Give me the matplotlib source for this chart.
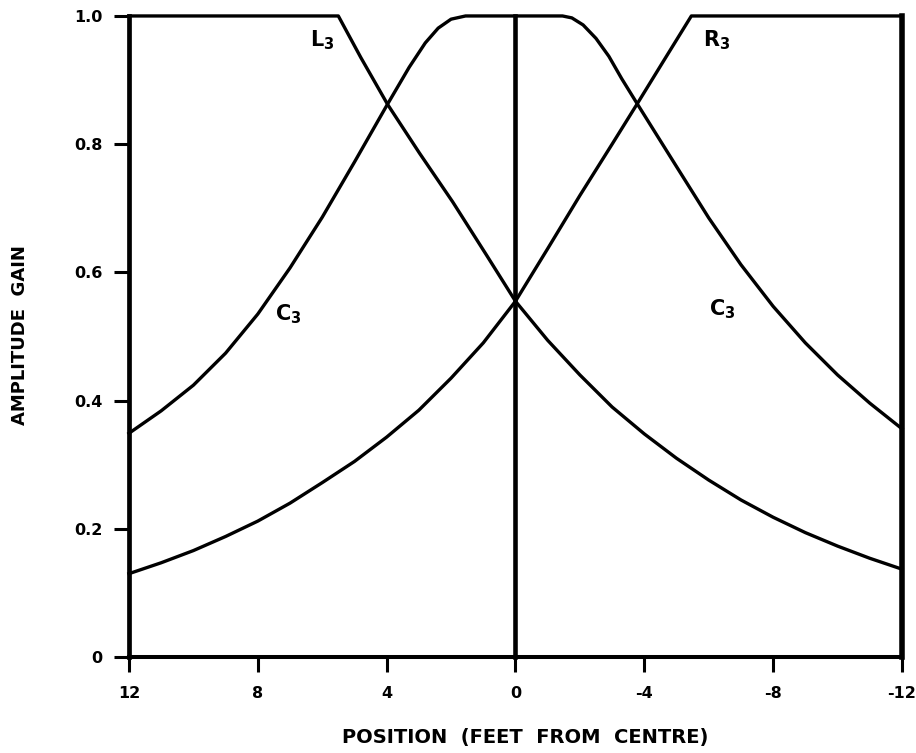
import matplotlib
matplotlib.use("Agg")
import matplotlib.pyplot as plt

# curve readings: position (ft from centre) -> amplitude gain
l3_pos = [12, 5.5, 4.8, 3.97, 2.98, 1.95, 0.9, 0, -1, -2, -3, -4, -5, -6, -7, -8, -9, -10, -11, -12]
l3_gain = [1.0, 1.0, 0.935, 0.862, 0.786, 0.71, 0.627, 0.555, 0.494, 0.44, 0.39, 0.348,
           0.31, 0.276, 0.245, 0.218, 0.194, 0.173, 0.154, 0.137]

r3_pos = [12, 11, 10, 9, 8, 7, 6, 5, 4, 3, 2, 1, 0, -1, -2, -3, -3.78, -4.6, -5.46, -12]
r3_gain = [0.13, 0.147, 0.166, 0.188, 0.212, 0.24, 0.272, 0.305, 0.343, 0.385, 0.435, 0.49,
           0.555, 0.637, 0.72, 0.80, 0.863, 0.93, 1.0, 1.0]

c3_pos = [12, 11, 10, 9, 8, 7, 6, 5, 4, 3.3, 2.8, 2.4, 2.0, 1.55,
          -1.46, -1.75, -2.1, -2.5, -2.9, -3.3, -3.78, -5, -6, -7, -8, -9, -10, -11, -12]
c3_gain = [0.349, 0.384, 0.424, 0.474, 0.535, 0.607, 0.686, 0.772, 0.86, 0.92, 0.958, 0.981, 0.995, 1.0,
           1.0, 0.997, 0.986, 0.965, 0.937, 0.902, 0.863, 0.765, 0.685, 0.612, 0.547, 0.49, 0.44, 0.396, 0.356]

x_ticks = [12, 8, 4, 0, -4, -8, -12]
x_ticklabels = ["12", "8", "4", "0", "-4", "-8", "-12"]
y_ticks = [0, 0.2, 0.4, 0.6, 0.8, 1.0]
y_ticklabels = ["0", "0.2", "0.4", "0.6", "0.8", "1.0"]

# curve name, label position
curve_labels = [("L", 6.0, 0.962), ("R", -6.26, 0.962), ("C", 7.04, 0.535), ("C", -6.42, 0.543)]

plt.rcParams["font.family"] = ["DejaVu Sans"]
plt.rcParams["font.weight"] = "bold"
plt.rcParams["mathtext.fontset"] = "custom"
plt.rcParams["mathtext.rm"] = "DejaVu Sans:bold"
plt.rcParams["mathtext.it"] = "DejaVu Sans:bold"
plt.rcParams["mathtext.bf"] = "DejaVu Sans:bold"

fig = plt.figure(figsize=(9.16, 7.53), dpi=100)
ax = fig.add_axes([0.1408, 0.1275, 0.9847 - 0.1408, 0.9788 - 0.1275])

line_kw = dict(color="black", lw=2.4, solid_joinstyle="round", clip_on=False)
ax.plot(l3_pos, l3_gain, **line_kw)
ax.plot(r3_pos, r3_gain, **line_kw)
ax.plot(c3_pos, c3_gain, **line_kw)
ax.axvline(0, ymin=0, ymax=1, color="black", lw=3.3, clip_on=False)

for name, x, y in curve_labels:
    ax.text(x, y, r"$\mathrm{%s}_{3}$" % name, fontsize=15, ha="center", va="center")

ax.set_xlim(12, -12)
ax.set_ylim(0, 1.0)
ax.set_xticks(x_ticks)
ax.set_xticklabels(x_ticklabels)
ax.set_yticks(y_ticks)
ax.set_yticklabels(y_ticklabels)
ax.tick_params(direction="out", length=11, width=2.2, labelsize=11.5, pad=8)
ax.tick_params(axis="x", pad=10)

ax.spines["top"].set_visible(False)
ax.spines["left"].set_linewidth(3.4)
ax.spines["bottom"].set_linewidth(2.9)
ax.spines["right"].set_linewidth(4.0)

fig.text(525 / 916, 1 - 738 / 753, "POSITION  (FEET  FROM  CENTRE)", fontsize=14,
         fontweight="bold", ha="center", va="center")
fig.text(20 / 916, 1 - 335 / 753, "AMPLITUDE  GAIN", fontsize=13, fontweight="bold",
         rotation=90, ha="center", va="center")

fig.savefig("out.png", dpi=100, facecolor="white")
